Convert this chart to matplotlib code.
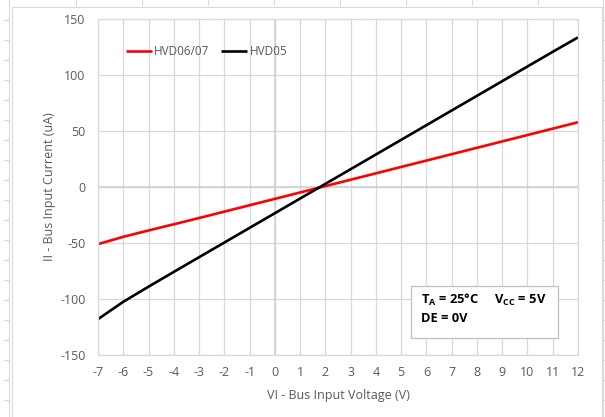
import matplotlib
matplotlib.use("Agg")
import matplotlib.pyplot as plt
from matplotlib.lines import Line2D
from matplotlib.patches import Rectangle

plt.rcParams['font.family'] = ['Open Sans', 'DejaVu Sans']
plt.rcParams['mathtext.fontset'] = 'custom'
plt.rcParams['mathtext.rm'] = 'Open Sans'
plt.rcParams['mathtext.bf'] = 'Open Sans:bold'
plt.rcParams['axes.unicode_minus'] = False

# bus input voltage (V)
volts = [-7, -6, -5, -4, -3, -2, -1, 0, 1, 2, 3, 4, 5, 6, 7, 8, 9, 10, 11, 12]
# bus input current (uA)
hvd0607 = [-51.0, -44.5, -38.8, -33.3, -27.7, -22.0, -16.3, -10.6, -4.9, 0.8,
           6.5, 12.2, 17.9, 23.6, 29.3, 35.0, 40.7, 46.4, 52.1, 57.8]
hvd05 = [-118.0, -102.5, -89.0, -75.8, -62.7, -49.6, -36.5, -23.4, -10.3, 2.8,
         15.9, 29.0, 42.1, 55.2, 68.3, 81.4, 94.5, 107.6, 120.7, 133.6]

x_ticks = list(range(-7, 13))
y_ticks = [-150, -100, -50, 0, 50, 100, 150]

grid_col = '#d9d9d9'
text_col = '#595959'

W, H = 605, 417
fig = plt.figure(figsize=(W / 100, H / 100), dpi=100)
ax = fig.add_axes([98 / W, (H - 355) / H, 480 / W, 336 / H])

# spreadsheet cell lines around the chart object
def px_line(x0, y0, x1, y1, **kw):
    fig.add_artist(Line2D([x0 / W, x1 / W], [1 - y0 / H, 1 - y1 / H],
                          transform=fig.transFigure, color=grid_col, lw=0.8, **kw))

px_line(9, 0, 9, H)
for yy in range(20, H, 20):
    px_line(4, yy, 9, yy)
for xx in range(76, 600, 66):
    px_line(xx, 0, xx, 5)
px_line(603, 0, 603, H)
for yy in range(20, H, 20):
    px_line(603, yy, 605, yy)
fig.add_artist(Rectangle((12 / W, -0.1), 590 / W, 1.1 - 7 / H, transform=fig.transFigure,
                         fill=False, edgecolor=grid_col, lw=0.8))

ax.plot(volts, hvd0607, color='#ff0000', lw=1.9, label='HVD06/07', solid_capstyle='butt')
ax.plot(volts, hvd05, color='#000000', lw=1.9, label='HVD05', solid_capstyle='butt')

ax.set_xlim(-7, 12)
ax.set_ylim(-150, 150)
ax.set_xticks(x_ticks)
ax.set_yticks(y_ticks)
ax.grid(True, color=grid_col, lw=0.9)
ax.set_axisbelow(True)
ax.axhline(0, color='#cfcfcf', lw=1.1, zorder=1)
ax.axvline(0, color='#cfcfcf', lw=1.1, zorder=1)
for s in ax.spines.values():
    s.set_color(grid_col)
    s.set_linewidth(0.9)
ax.tick_params(length=0, labelsize=9, labelcolor=text_col)
ax.tick_params(axis='y', pad=9)
ax.tick_params(axis='x', pad=8)

ax.set_xlabel('VI - Bus Input Voltage (V)', fontsize=9, color=text_col, labelpad=7)
ax.set_ylabel('II - Bus Input Current (uA)', fontsize=9, color=text_col, labelpad=3)

ax.legend(loc='upper left', bbox_to_anchor=(0.036, 0.955), ncol=2, frameon=False,
          fontsize=8.5, handlelength=2.2, handletextpad=0.2, columnspacing=1.0,
          labelcolor=text_col)

# condition box
ax.add_patch(Rectangle((0.652, 0.0506), 0.306, 0.1548, transform=ax.transAxes,
                       facecolor='white', edgecolor='#bfbfbf', lw=0.9, zorder=5))
ax.text(0.673, 0.1637, r'T$_\mathbf{A}$ = 25°C     V$_\mathbf{CC}$ = 5V',
        transform=ax.transAxes, fontsize=9.3, fontweight='bold', va='center', ha='left',
        zorder=6)
ax.text(0.673, 0.110, 'DE = 0V', transform=ax.transAxes, fontsize=9.3,
        fontweight='bold', va='center', ha='left', zorder=6)

fig.savefig('out.png', dpi=100)
